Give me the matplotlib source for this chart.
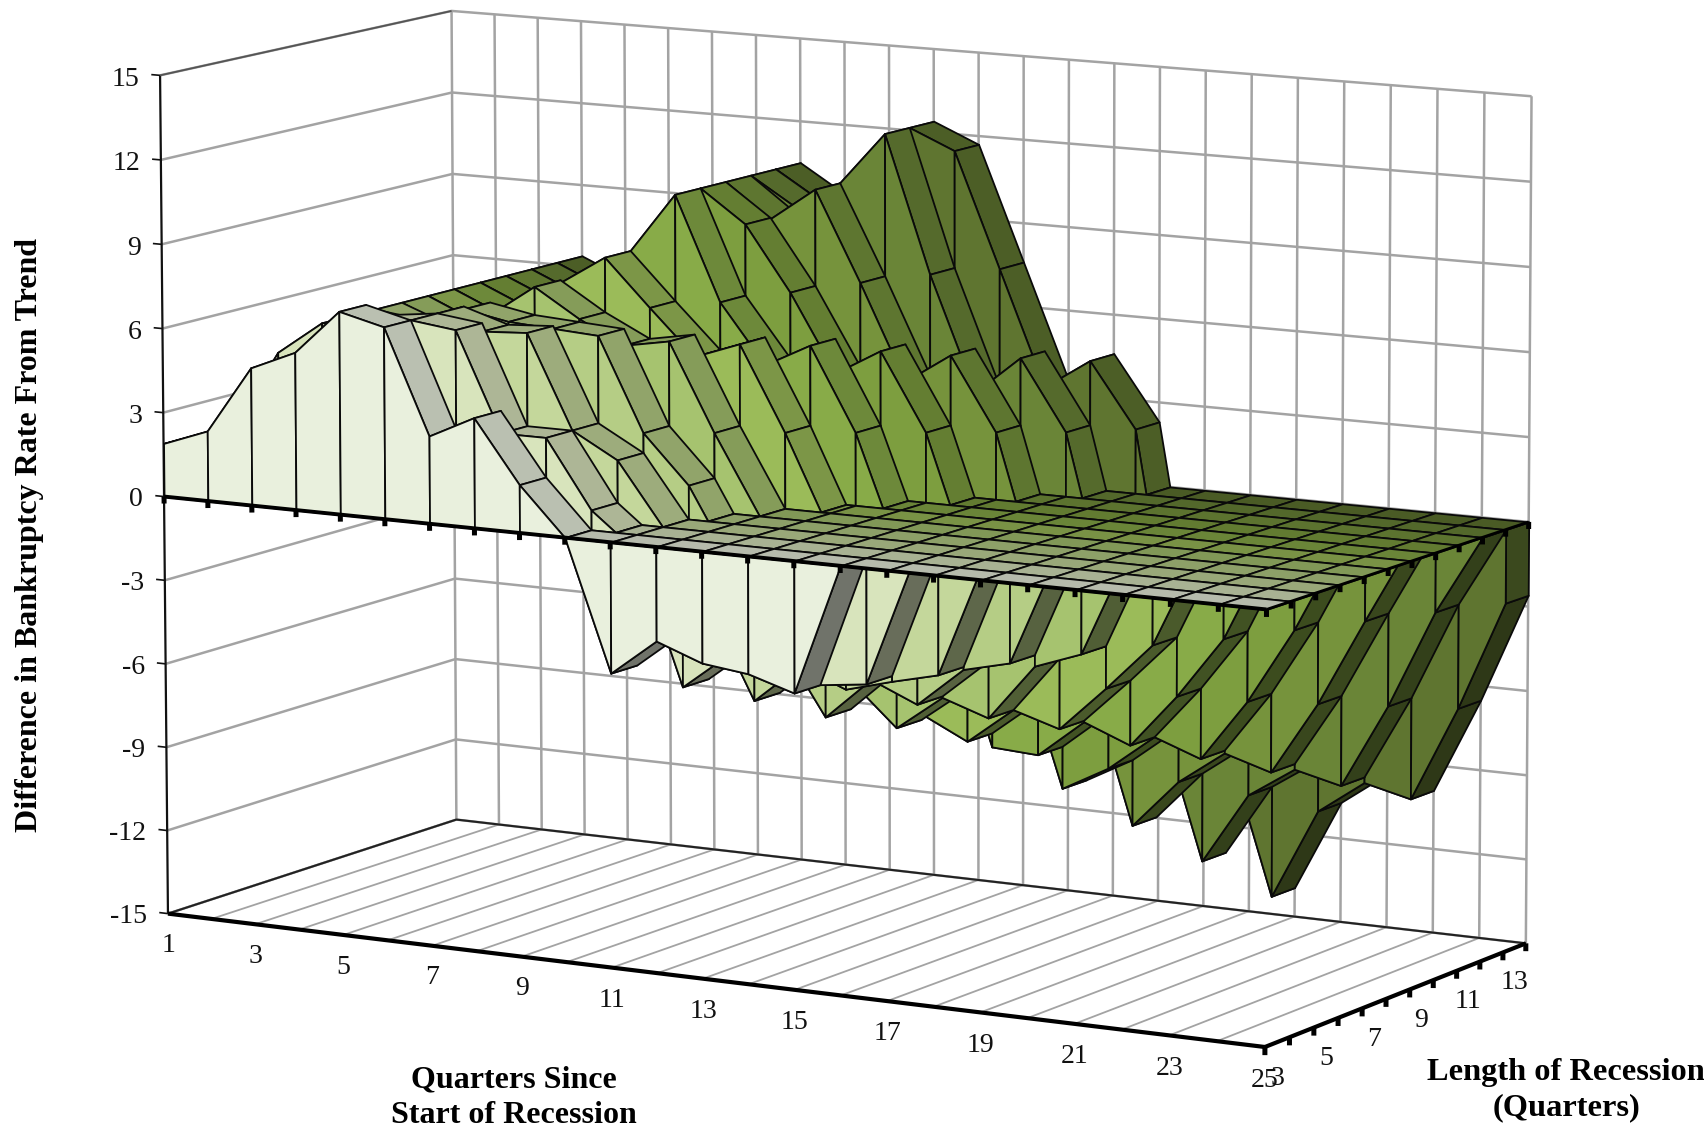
import numpy as np
import matplotlib
matplotlib.use("Agg")
import matplotlib.pyplot as plt
from matplotlib.colors import to_rgb
from mpl_toolkits.mplot3d.art3d import Poly3DCollection

plt.rcParams['font.family'] = ['Liberation Serif', 'DejaVu Serif']

quarters = list(range(1, 26))
lengths = list(range(3, 14))
z_ticks = [-15, -12, -9, -6, -3, 0, 3, 6, 9, 12, 15]

len_03 = [1.9,2.5,4.9,5.6,7.2,6.8,3.1,3.9,1.7,0,-4.6,-3.3,-3.9,-4.1,-4.6,0,0,0,0,0,0,0,0,0,0]
len_04 = [1.9,2.5,5.2,6.4,6.6,6.8,6.6,3.1,3.1,0.7,-0.6,-5.2,-3.9,-4.5,-4.6,-4.4,0,0,0,0,0,0,0,0,0]
len_05 = [1.9,2.5,5,6.4,6.2,6.8,6.3,6.4,3.1,2.2,0,-2.6,-5.8,-4.4,-5.05,-4.6,-4.2,0,0,0,0,0,0,0,0]
len_06 = [1.9,2.5,5,6.4,5.8,6.7,6.4,6.3,6.2,2.9,1.2,-1.6,-4.0,-6.5,-5.0,-5.7,-4.3,-3.9,0,0,0,0,0,0,0]
len_07 = [1.9,2.5,5,6.4,5.7,6.25,7.4,6.4,5.6,5.9,2.8,0,-2.4,-5.5,-7.0,-5.75,-6.3,-4.3,-3.7,0,0,0,0,0,0]
len_08 = [1.9,2.5,5,6.4,5.7,6.0,7.3,8.35,6.7,5.1,5.7,2.7,-0.7,-3,-6.8,-7.6,-6.3,-6.8,-5.2,-3.5,0,0,0,0,0]
len_09 = [1.9,2.5,5,6.4,5.7,6.0,7.0,8.35,10.5,6.8,4.7,5.55,2.6,-1.7,-3.1,-8.1,-8.2,-6.85,-7.5,-5.6,-3.4,0,0,0,0]
len_10 = [1.9,2.5,5,6.4,5.7,6.0,7.0,8.0,10.5,9.35,7.05,4.3,5.25,2.5,-2.2,-4.6,-9.7,-8.8,-7.5,-8.1,-5.9,-3.2,0,0,0]
len_11 = [1.9,2.5,5,6.4,5.7,6.0,7.0,8.0,10.5,9.3,10.5,7.3,3.9,5.0,2.4,-3.1,-5.8,-11.15,-9.4,-8.2,-8.7,-6.1,-3,0,0]
len_12 = [1.9,2.5,5,6.4,5.7,6.0,7.0,8.0,10.5,9.5,10.5,12.4,7.5,3.4,4.8,2.3,-4.1,-7.2,-12.55,-10,-8.9,-9.3,-6.3,-2.8,0]
len_13 = [1.9,2.5,5,6.4,5.7,6.0,7.0,8.0,10.5,9.5,10.6,12.4,11.7,7.6,3.5,4.6,2.3,-7.3,-8.6,-13.95,-10.7,-9.5,-9.9,-6.5,-2.6]
table = [len_03,len_04,len_05,len_06,len_07,len_08,len_09,len_10,len_11,len_12,len_13]
wall_colors = ['#e9f0dd','#d8e4bc','#c4d79b','#b5cd85','#a6c36f','#9bbb59',
               '#88ab48','#7d9e3f','#76933c','#6a8537','#5f7530']

W, H = 1704, 1133
fig = plt.figure(figsize=(W/100, H/100), dpi=100)
ax = fig.add_axes([0, 0, 1, 1], projection='3d')
ax.apply_aspect = lambda position=None: None
ax.set_axis_off()
ax.computed_zorder = False
ax.set_proj_type('ortho')

# camera: fitted from where the plot box's corners fall on the canvas
box_world = np.array([(1,0,-15),(1,0,15),(1,0,0),(1,11,-15),(1,11,15),(25,11,-15),
                      (25,11,15),(25,11,0),(25,0,-15),(25,0,0)], float)
box_canvas = np.array([(168,913),(160,75),(164,497),(456,820),(452,11),(1527,943),
                       (1533,96),(1526,522),(1266,1047),(1265.5,610)], float)
A, b = [], []
for (x, y, z), (u, v) in zip(box_world, box_canvas):
    A.append([x,y,z,1,0,0,0,0,-u*x,-u*y,-u*z]); b.append(u)
    A.append([0,0,0,0,x,y,z,1,-v*x,-v*y,-v*z]); b.append(v)
p = np.linalg.lstsq(np.array(A), np.array(b), rcond=None)[0]
P = np.array([p[:4], p[4:8], [*p[8:11], 1.0]])

def camera():
    vl = ax.viewLim
    sx = (vl.x1 - vl.x0) / W
    sy = -(vl.y1 - vl.y0) / H
    S = np.array([[sx, 0, vl.x0], [0, sy, vl.y1], [0, 0, 1]])
    Q = S @ P
    return np.array([Q[0], Q[1], [0, -1e-3, 0, -0.5], Q[2]])
ax.get_proj = camera

GRID = '#a3a3a3'
def line(xs, ys, zs, color='k', lw=1.0, zo=1.5):
    ax.plot(xs, ys, zs, color=color, lw=lw, zorder=zo, solid_capstyle='butt')

for z in z_ticks:
    line([1, 1, 25], [0, 11, 11], [z, z, z], GRID, 1.8)
for q in quarters:
    line([q, q], [11, 11], [-15, 15], GRID, 1.8)
    line([q, q], [0, 11], [-15, -15], GRID, 1.3)
line([1, 1, 25], [0, 11, 11], [-15, -15, -15], '#222222', 1.5, 2)
line([1, 1], [0, 0], [-15, 15], '#111111', 1.6, 2)
line([1, 1], [0, 11], [15, 15], '#555555', 1.3, 2)
for z in z_ticks:
    line([0.8, 1], [0, 0], [z, z], '#111111', 1.2, 2)

order = 10
def face(verts, color):
    global order
    order += 1
    ax.add_collection3d(Poly3DCollection([verts], facecolors=[color], edgecolors='#0a0a0a',
                                         linewidths=1.3, zorder=order), autolim=False)

def shade(c, f):
    return tuple(f * t for t in to_rgb(c))

for s in range(len(table) - 1, -1, -1):
    vals = table[s]
    col = wall_colors[s]
    segs = []
    for i in range(len(quarters) - 1):
        a, b_ = float(vals[i]), float(vals[i + 1])
        q0, q1 = quarters[i], quarters[i + 1]
        if a * b_ < 0:
            t = a / (a - b_)
            qm = q0 + t * (q1 - q0)
            segs += [(q0, a, qm, 0.0), (qm, 0.0, q1, b_)]
        else:
            segs.append((q0, a, q1, b_))
    # sloping upper or lower skin of this ribbon
    for q0, a, q1, b_ in segs:
        if a == 0 and b_ == 0:
            continue
        low = a < 0 or b_ < 0
        f = 0.48 if (low and b_ > a) else 0.8
        face([(q0, s, a), (q1, s, b_), (q1, s + 1, b_), (q0, s + 1, a)], shade(col, f))
    # end cap at the last quarter
    if vals[-1] != 0:
        face([(quarters[-1], s, 0), (quarters[-1], s + 1, 0),
              (quarters[-1], s + 1, vals[-1]), (quarters[-1], s, vals[-1])], shade(col, 0.62))
    # front wall
    for q0, a, q1, b_ in segs:
        if a == 0 and b_ == 0:
            continue
        face([(q0, s, 0), (q1, s, 0), (q1, s, b_), (q0, s, a)], col)
    # flat roof where the ribbon is not above zero
    for q0, a, q1, b_ in segs:
        if a <= 0 and b_ <= 0:
            face([(q0, s, 0), (q1, s, 0), (q1, s + 1, 0), (q0, s + 1, 0)], shade(col, 0.78))

top = order + 10
qmax = quarters[-1]
line([1, qmax], [0, 0], [0, 0], 'k', 2.8, top)
line([qmax, qmax], [0, 11], [0, 0], 'k', 2.0, top)
line([1, qmax], [0, 0], [-15, -15], 'k', 3.0, top)
line([qmax, qmax], [0, 11], [-15, -15], 'k', 3.0, top)
for q in quarters:
    line([q, q], [0, 0], [0, -0.25], 'k', 3.6, top)
for d in range(12):
    line([qmax, qmax], [d, d], [0, -0.25], 'k', 3.6, top)
    line([qmax, qmax], [d, d], [-15, -15.28], 'k', 3.6, top)

FS = 20
def label(q, d, z, s, ha='center'):
    u, v, w = P @ np.array([q, d, z, 1.0])
    fig.text(u / w / W, 1 - v / w / H, s, ha=ha, va='center', fontsize=FS, color='#111111')

for z in z_ticks:
    label(0.52, 0, z - 0.2, str(z), ha='right')
for q in quarters[::2]:
    label(q, 0, -16.15, str(q))
for k, L in enumerate(lengths):
    if L % 2 == 1:
        label(qmax, k + 0.5, -16.25, str(L))

fig.text(514/W, 1 - 1098/H, 'Quarters Since\nStart of Recession', ha='center', va='center',
         fontsize=23, fontweight='bold', linespacing=1.3)
fig.text(1566/W, 1 - 1090/H, 'Length of Recession\n(Quarters)', ha='center', va='center',
         fontsize=23.3, fontweight='bold', linespacing=1.28)
fig.text(30/W, 1 - 535/H, 'Difference in Bankruptcy Rate From Trend', rotation=90, ha='center', va='center',
         fontsize=23, fontweight='bold')

fig.savefig('out.png', dpi=100)
